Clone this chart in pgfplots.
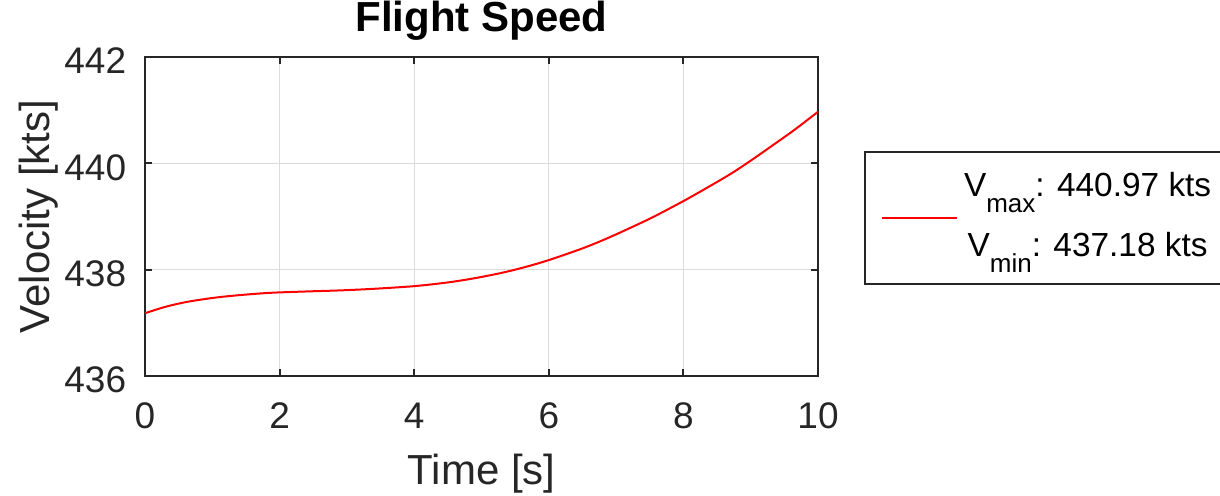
\documentclass[border=0pt]{standalone}
\usepackage{fontspec}
\setmainfont{Liberation Sans}
\usepackage{pgfplots}
\pgfplotsset{compat=1.18}
\definecolor{axgray}{HTML}{262626}
\definecolor{gridgray}{HTML}{DCDCDC}
\begin{document}
\begin{tikzpicture}
\begin{axis}[
  at={(0,0)}, anchor=south west,
  scale only axis, width=336.5pt, height=159.5pt,
  xmin=0, xmax=10, ymin=436, ymax=442,
  xtick={0,2,4,6,8,10}, ytick={436,438,440,442},
  grid=major, major grid style={gridgray, line width=0.5pt},
  axis line style={axgray, line width=1pt},
  tick align=inside, major tick length=3.5pt,
  tick style={axgray, line width=1pt},
  /pgf/number format/assume math mode=true,
  ticklabel style={font=\fontsize{18.5}{22}\selectfont, text=axgray, inner sep=0pt},
  xticklabel style={anchor=base, yshift=-26.5pt},
  yticklabel style={anchor=east, xshift=-9.25pt, yshift=-2pt},
  title={Flight Speed},
  title style={at={(axis description cs:0.5,1.0439)}, anchor=base, inner sep=0pt, font=\bfseries\fontsize{21}{25}\selectfont},
  xlabel={Time [s]},
  xlabel style={at={(axis description cs:0.5,-0.3417)}, anchor=base, inner sep=0pt, font=\fontsize{21}{25}\selectfont, text=axgray},
  ylabel={Velocity [kts]},
  ylabel style={at={(axis description cs:-0.14116,0.5)}, anchor=base, inner sep=0pt, font=\fontsize{21}{25}\selectfont, text=axgray},
  legend style={at={(axis description cs:1.0684,0.7053)}, anchor=north west, draw=axgray, line width=1pt, inner xsep=8pt, inner ysep=0pt, column sep=0pt, nodes={inner sep=0pt, text depth=}, cells={anchor=center}, font=\fontsize{16.7}{20}\selectfont, text=black},
  legend image code/.code={\draw[#1] (0pt,0pt) -- (37.5pt,0pt); \path[draw=none, fill=none] (0pt,-5pt) rectangle (41pt,5pt);},
]
\addplot[red, line width=1pt, smooth, tension=0.5] coordinates {
(0,437.18) (0.3,437.30) (0.65,437.40) (1.15,437.49) (1.8,437.56) (2.4,437.59)
(2.9,437.61) (3.4,437.64) (4.0,437.69) (4.5,437.76) (4.9,437.84) (5.3,437.94)
(5.65,438.05) (6.0,438.18) (6.5,438.40) (6.85,438.58) (7.2,438.78) (7.55,438.99)
(8.0,439.29) (8.35,439.54) (8.7,439.80) (9.0,440.05) (9.35,440.36) (9.65,440.63)
(10,440.97)
};
\addlegendentry{\begin{tabular}{@{}c@{}}\rule{0pt}{22pt}V\raisebox{-8pt}{\fontsize{13}{13}\selectfont max}: 440.97 kts\rule[-8pt]{0pt}{8pt}\\ \rule{0pt}{22pt}V\raisebox{-8pt}{\fontsize{13}{13}\selectfont min}: 437.18 kts\rule[-14pt]{0pt}{14pt}\end{tabular}}
\end{axis}
\pgfresetboundingbox
\path[use as bounding box] (-72.5pt,-60pt) rectangle (537.5pt,188pt);
\end{tikzpicture}
\end{document}
